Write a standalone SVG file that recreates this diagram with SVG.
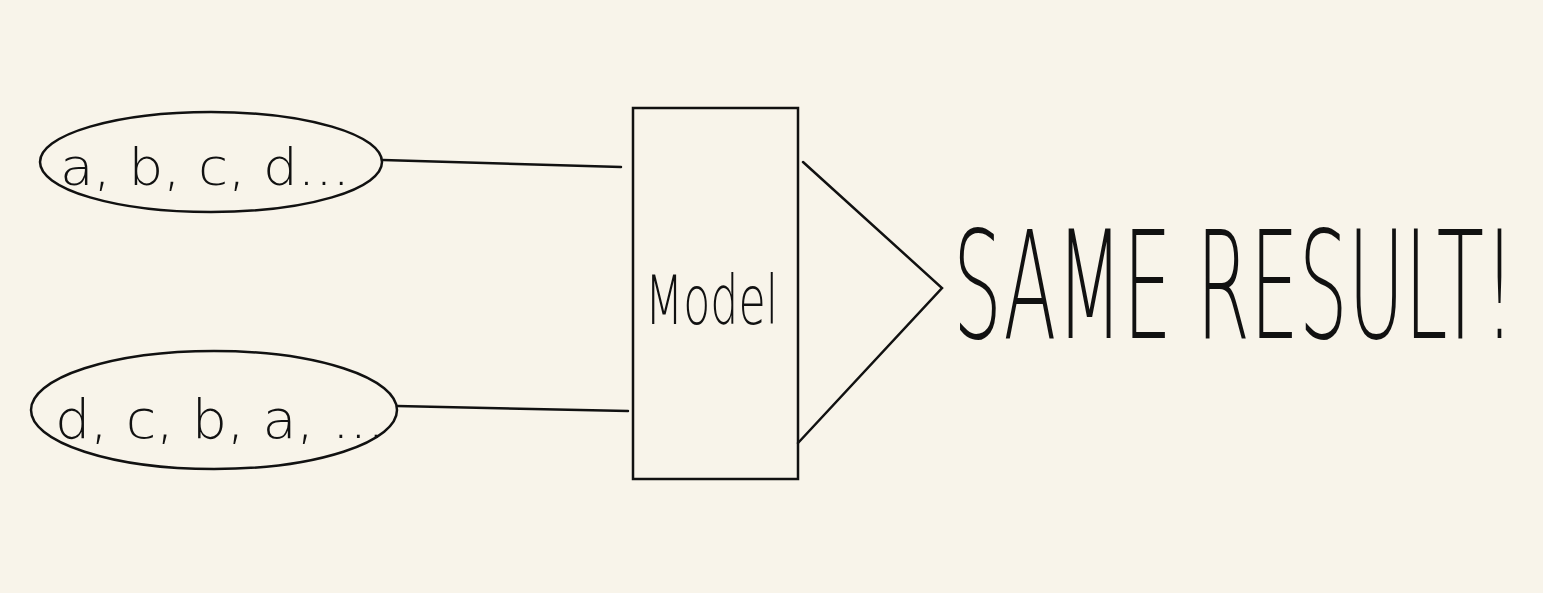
<svg xmlns="http://www.w3.org/2000/svg" width="1543" height="593" viewBox="0 0 1543 593">
<style>
.s{fill:none;stroke:#111;stroke-width:2.5;stroke-linecap:round}
.t{font-family:"DejaVu Sans","Liberation Sans",sans-serif;font-weight:200;fill:#111}
</style>
<rect width="1543" height="593" fill="#F8F4EA"/>
<g id="input1">
<ellipse class="s" cx="211" cy="162" rx="171" ry="50"/>
<text class="t" x="60" y="185" font-size="52" textLength="290" lengthAdjust="spacingAndGlyphs">a, b, c, d...</text>
</g>
<g id="input2">
<ellipse class="s" cx="214" cy="410" rx="183" ry="59"/>
<text class="t" x="55" y="438" font-size="54" textLength="330" lengthAdjust="spacingAndGlyphs">d, c, b, a, ...</text>
</g>
<g id="model">
<rect class="s" x="633" y="108" width="165" height="371"/>
<text class="t" x="645" y="324" font-size="68" textLength="133" lengthAdjust="spacingAndGlyphs">Model</text>
</g>
<g id="result">
<text class="t" transform="translate(953,338) scale(0.5,1)" x="0" y="0" font-size="150" textLength="1124" lengthAdjust="spacingAndGlyphs">SAME RESULT!</text>
</g>
<g id="connectors">
<line class="s" x1="383" y1="160" x2="621" y2="167"/>
<line class="s" x1="397" y1="406" x2="628" y2="411"/>
<polyline class="s" points="803,162 942,288 798,443"/>
</g>
</svg>
